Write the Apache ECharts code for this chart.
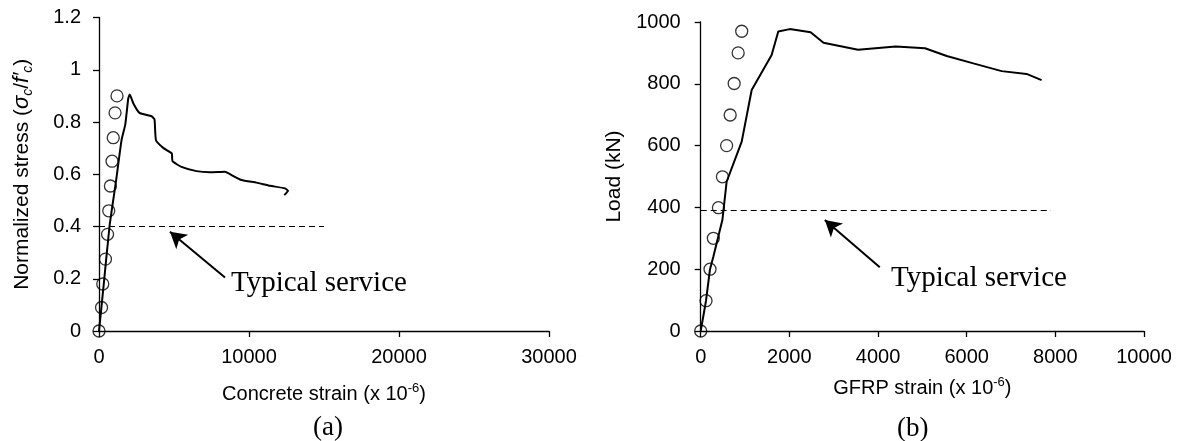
<!DOCTYPE html>
<html>
<head>
<meta charset="utf-8">
<script src="https://cdn.jsdelivr.net/npm/echarts@6/dist/echarts.min.js"></script>
<style>
  html, body { margin: 0; padding: 0; background: #fff; }
  #chart { width: 1182px; height: 441px; }
</style>
</head>
<body>
<div id="chart"></div>
<script>
// (a) concrete strain vs normalized stress
const concreteStrain = [0, 300, 700, 1150, 1500, 1750, 1950, 2050, 2300, 2700, 3500, 3700, 3800, 4300, 4850, 4900, 5500, 6500, 7400, 8400, 8900, 9500, 10500, 11400, 12400, 12600, 12350];
const normStress = [0, 0.17, 0.40, 0.58, 0.73, 0.79, 0.89, 0.905, 0.87, 0.835, 0.822, 0.81, 0.73, 0.70, 0.68, 0.65, 0.628, 0.612, 0.608, 0.61, 0.595, 0.578, 0.568, 0.556, 0.546, 0.537, 0.52];
const circleStrainA = [0, 170, 250, 430, 570, 650, 760, 870, 950, 1070, 1200];
const circleStressA = [0, 0.09, 0.18, 0.275, 0.37, 0.46, 0.555, 0.65, 0.74, 0.835, 0.9];
const serviceStressA = 0.4;
const serviceEndA = 15000;
const arrowA = [[8400, 0.205], [4730, 0.38]];

// (b) GFRP strain vs load
const gfrpStrain = [0, 120, 210, 285, 490, 585, 925, 1150, 1600, 1750, 2010, 2480, 2770, 3550, 4400, 5060, 5550, 6150, 6790, 7350, 7690];
const loadKN = [0, 98, 200, 240, 360, 483, 613, 780, 893, 969, 977, 967, 933, 910, 921, 915, 890, 866, 841, 832, 812];
const circleStrainB = [0, 120, 210, 285, 400, 490, 585, 665, 755, 845, 925];
const circleLoadB = [0, 98, 200, 300, 399, 499, 600, 699, 801, 900, 970];
const serviceLoadB = 390;
const serviceEndB = 7900;
const arrowB = [[4040, 206], [2800, 359]];

const xTicksA = [0, 10000, 20000, 30000];
const yTicksA = [0, 0.2, 0.4, 0.6, 0.8, 1, 1.2];
const xTicksB = [0, 2000, 4000, 6000, 8000, 10000];
const yTicksB = [0, 200, 400, 600, 800, 1000];

const pairs = (xs, ys) => xs.map((x, i) => [x, ys[i]]);

const sans = 'Liberation Sans, Arial, sans-serif';
const serif = 'Liberation Serif, Times New Roman, serif';

const axisLine = { show: true, lineStyle: { color: '#000', width: 1.3 } };
const axisTick = { show: true, inside: false, length: 6, lineStyle: { color: '#000', width: 1.3 } };
const plainNumber = v => String(Math.round(v * 1000) / 1000);

function xAxis(idx, ticks, nameRich, gap) {
  return {
    type: 'value', gridIndex: idx,
    min: ticks[0], max: ticks[ticks.length - 1], interval: ticks[1] - ticks[0],
    axisLine, axisTick, splitLine: { show: false },
    axisLabel: { color: '#000', fontFamily: sans, fontSize: 20, margin: 16, formatter: plainNumber },
    name: nameRich.text, nameLocation: 'middle', nameGap: gap,
    nameTextStyle: { color: '#000', fontFamily: sans, fontSize: 20, rich: nameRich.rich }
  };
}
function yAxis(idx, ticks, nameRich, gap, margin) {
  return {
    type: 'value', gridIndex: idx,
    min: ticks[0], max: ticks[ticks.length - 1], interval: ticks[1] - ticks[0],
    axisLine, axisTick, splitLine: { show: false },
    axisLabel: { color: '#000', fontFamily: sans, fontSize: 20, margin: margin, formatter: plainNumber },
    name: nameRich.text, nameLocation: 'middle', nameGap: gap, nameRotate: 90,
    nameTextStyle: { color: '#000', fontFamily: sans, fontSize: 21, rich: nameRich.rich }
  };
}

const supRich = {
  n: { fontFamily: sans, fontSize: 20, lineHeight: 24, color: '#000' },
  sup: { fontFamily: sans, fontSize: 13, lineHeight: 13, verticalAlign: 'top', color: '#000' }
};
const stressRich = {
  n: { fontFamily: sans, fontSize: 21, lineHeight: 26, color: '#000' },
  i: { fontFamily: sans, fontSize: 22, lineHeight: 26, fontStyle: 'italic', color: '#000' },
  s: { fontFamily: sans, fontSize: 14, lineHeight: 14, verticalAlign: 'bottom', fontStyle: 'italic', color: '#000' }
};

const curveStyle = { color: '#000', width: 2 };
const circleStyle = { color: 'rgba(0,0,0,0)', borderColor: '#000', borderWidth: 1.3 };
const dashStyle = { color: '#000', width: 1.2, type: [6, 4] };

function arrowLine(pts) {
  return {
    silent: true, animation: false,
    label: { show: false },
    lineStyle: { color: '#000', width: 2, type: 'solid' },
    symbolSize: [14, 16],
    data: [[{ coord: pts[0], symbol: 'none' }, { coord: pts[1], symbol: 'arrow' }]]
  };
}

const option = {
  animation: false,
  backgroundColor: '#fff',
  grid: [
    { left: 99, right: 633, top: 17.5, bottom: 110 },
    { left: 700.7, right: 38, top: 22, bottom: 110 }
  ],
  xAxis: [
    xAxis(0, xTicksA, { text: '{n|Concrete strain (x 10}{sup|-6}{n|)}', rich: supRich }, 51),
    xAxis(1, xTicksB, { text: '{n|GFRP strain (x 10}{sup|-6}{n|)}', rich: supRich }, 45)
  ],
  yAxis: [
    yAxis(0, yTicksA, { text: '{n|Normalized stress (}{i|σ}{s|c}{n|/}{i|f′}{s|c}{n|)}', rich: stressRich }, 64, 18),
    yAxis(1, yTicksB, { text: 'Load (kN)', rich: {} }, 76, 20)
  ],
  series: [
    {
      type: 'line', xAxisIndex: 0, yAxisIndex: 0, data: pairs(concreteStrain, normStress),
      showSymbol: false, smooth: 0.15, lineStyle: curveStyle, z: 3
    },
    {
      type: 'scatter', xAxisIndex: 0, yAxisIndex: 0, data: pairs(circleStrainA, circleStressA),
      symbol: 'circle', symbolSize: 12, itemStyle: circleStyle, z: 4
    },
    {
      type: 'line', xAxisIndex: 0, yAxisIndex: 0, data: [[0, serviceStressA], [serviceEndA, serviceStressA]],
      showSymbol: false, lineStyle: dashStyle, z: 2, markLine: arrowLine(arrowA)
    },
    {
      type: 'line', xAxisIndex: 1, yAxisIndex: 1, data: pairs(gfrpStrain, loadKN),
      showSymbol: false, lineStyle: curveStyle, z: 3
    },
    {
      type: 'scatter', xAxisIndex: 1, yAxisIndex: 1, data: pairs(circleStrainB, circleLoadB),
      symbol: 'circle', symbolSize: 12, itemStyle: circleStyle, z: 4
    },
    {
      type: 'line', xAxisIndex: 1, yAxisIndex: 1, data: [[0, serviceLoadB], [serviceEndB, serviceLoadB]],
      showSymbol: false, lineStyle: dashStyle, z: 2, markLine: arrowLine(arrowB)
    }
  ],
  graphic: [
    { type: 'text', left: 231, top: 269, style: { text: 'Typical service', font: '29px ' + serif, fill: '#000' } },
    { type: 'text', left: 891, top: 264, style: { text: 'Typical service', font: '29px ' + serif, fill: '#000' } },
    { type: 'text', left: 313, top: 414, style: { text: '(a)', font: '27px ' + serif, fill: '#000' } },
    { type: 'text', left: 897, top: 415, style: { text: '(b)', font: '27px ' + serif, fill: '#000' } }
  ]
};

const chart = echarts.init(document.getElementById('chart'), null, { renderer: 'canvas' });
chart.setOption(option);
</script>
</body>
</html>
